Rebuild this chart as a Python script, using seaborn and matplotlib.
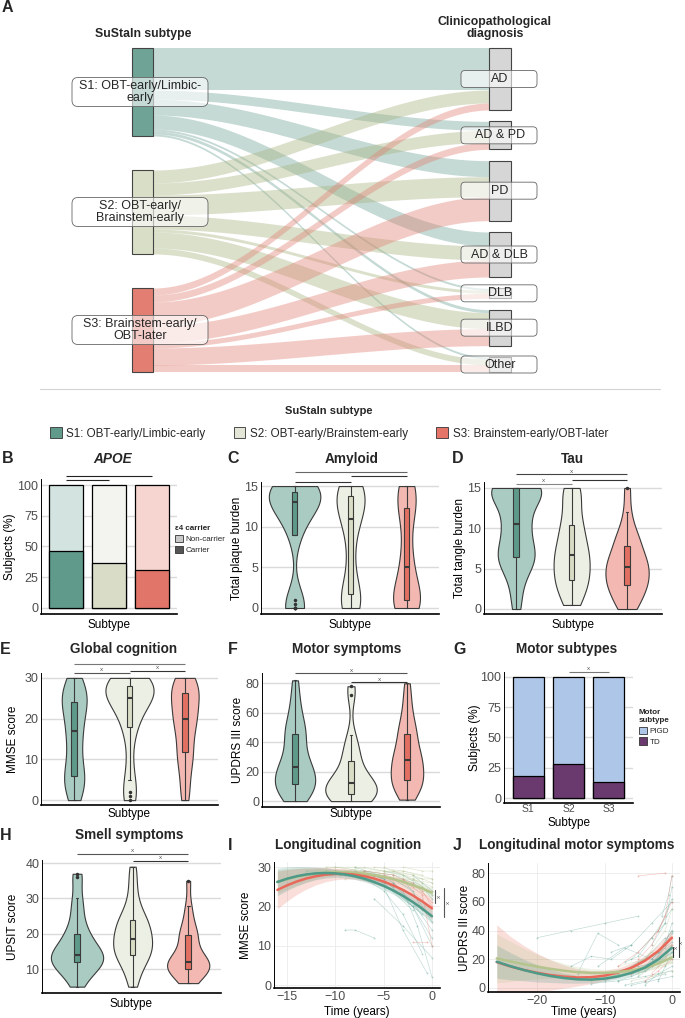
import numpy as np
import pandas as pd
import seaborn as sns
import matplotlib.pyplot as plt
from matplotlib.patches import Patch, FancyBboxPatch, Rectangle
from matplotlib.lines import Line2D

# ---------------- data ----------------
subtypes = ["S1", "S2", "S3"]
subtype_names = ["S1: OBT-early/Limbic-early", "S2: OBT-early/Brainstem-early",
                 "S3: Brainstem-early/OBT-later"]
sankey_labels = ["S1: OBT-early/Limbic-\nearly", "S2: OBT-early/\nBrainstem-early",
                 "S3: Brainstem-early/\nOBT-later"]
diagnoses = ["AD", "AD & PD", "PD", "AD & DLB", "DLB", "ILBD", "Other"]

# subjects going from each subtype to each diagnosis
flow_s1 = [42, 9, 16, 14, 2, 3, 2]
flow_s2 = [13, 12, 20, 14, 3, 16, 6]
flow_s3 = [7, 7, 24, 17, 5, 17, 7]

# APOE e4 carriers (%)
apoe_carrier = [46, 36.5, 31]
# TD motor subtype (%)
motor_td = [18, 28, 13.5]

# per-subject values (violins)
amyloid = [
    [0, 0, 0, 0, 0, 0.5, 1, 9, 9, 10, 11, 12, 12, 12.5, 13, 13, 13, 13, 13.5, 14, 14, 14, 14, 14.5, 14.5, 15, 15, 15, 15, 15, 15],
    [0, 0, 0.5, 1, 1, 1.5, 2, 4, 6, 8, 10, 11, 11, 12, 12.5, 13, 13.5, 14, 14, 14.5, 15, 15, 15],
    [0, 0, 0, 0.5, 0.5, 1, 1, 1.5, 2, 3, 4, 5, 6, 7, 9, 11, 12, 12.5, 13, 14, 15, 15, 15],
]
tau = [
    [0, 2, 4, 5, 6, 6, 6.5, 7, 7, 8, 9, 10, 10.5, 11, 12, 13, 14, 14.5, 15, 15, 15, 15, 15, 15, 15],
    [0.5, 1, 2, 3, 3.5, 3.5, 4, 5, 5.5, 6, 6.5, 7, 7.5, 8, 9, 10, 10.5, 11, 13, 14, 15, 15],
    [0, 0.5, 1, 2, 2.5, 3, 3, 3.5, 4, 4.5, 5, 5.5, 5.5, 6, 6.5, 7, 8, 8.5, 9, 10, 12, 15],
]
mmse = [
    [0, 1, 3, 4, 5, 6, 6, 8, 10, 12, 14, 16, 17, 18, 20, 22, 23, 24, 24, 25, 26, 27, 28, 29, 30],
    [0, 1, 2, 5, 9, 15, 18, 19, 21, 23, 24, 25, 25, 25, 26, 27, 27, 28, 28, 28, 29, 29, 30, 30, 30],
    [0, 2, 5, 8, 10, 11, 12, 14, 16, 18, 19, 20, 20, 21, 23, 24, 25, 26, 27, 27, 28, 29, 30, 30],
]
updrs = [
    [0, 2, 5, 7, 9, 10, 12, 14, 16, 18, 20, 22, 24, 27, 30, 35, 40, 45, 47, 50, 55, 62, 70, 82],
    [0, 0, 1, 2, 3, 5, 5, 6, 8, 10, 11, 12, 12, 14, 16, 20, 25, 30, 33, 38, 45, 72, 78],
    [1, 5, 8, 10, 12, 13, 15, 17, 20, 22, 25, 28, 28, 30, 33, 36, 40, 45, 47, 50, 55, 62, 70, 80],
]
upsit = [
    [5, 7, 9, 10, 11, 11, 12, 12, 13, 13, 14, 14, 14, 15, 16, 17, 18, 20, 20, 22, 25, 28, 30, 36, 37],
    [5, 8, 10, 12, 13, 14, 14, 15, 16, 17, 18, 18, 19, 20, 21, 22, 23, 24, 24, 26, 28, 31, 35, 39],
    [6, 7, 8, 9, 10, 10, 10, 11, 11, 12, 12, 12, 13, 14, 15, 17, 19, 20, 20, 22, 25, 28, 35],
]

# longitudinal trajectories: (subtype, times, scores)
traj_mmse = [
    ("S1", [-9.5, -7, -4, -1], [28, 27, 24, 18]),
    ("S1", [-8, -5, -2, 0], [29, 27, 20, 12]),
    ("S1", [-6, -4, -2, 0], [28, 26, 21, 14]),
    ("S1", [-7, -5, -3, -1], [27, 24, 18, 8]),
    ("S1", [-5, -3, -1, 0], [29, 28, 25, 22]),
    ("S1", [-4, -2, 0], [26, 20, 10]),
    ("S1", [-10, -8, -6, -4], [29, 29, 27, 25]),
    ("S1", [-12, -9, -6], [28, 28, 26]),
    ("S1", [-3, -1.5, 0], [27, 22, 16]),
    ("S1", [-8, -5.5, -3, -0.5], [30, 28, 14, 3]),
    ("S1", [-6, -3, 0], [22, 15, 7]),
    ("S1", [-2, -1, 0], [28, 26, 24]),
    ("S1", [-9, -8, -6], [14, 14, 12]),
    ("S1", [-5, -3, -1.5, 0], [28, 24, 15, 2]),
    ("S1", [-11, -8, -5, -2], [29, 28, 26, 19]),
    ("S1", [-13, -10, -7, -4], [29, 29, 28, 27]),
    ("S1", [-7, -4, -2, 0], [29, 28, 26, 23]),
    ("S1", [-4, -2, -1], [27, 24, 19]),
    ("S1", [-9, -7, -5], [28, 29, 27]),
    ("S2", [-12, -9, -6, -3, 0], [29, 29, 28, 27, 26]),
    ("S2", [-10, -7, -4, -1], [30, 29, 28, 26]),
    ("S2", [-8, -5, -2, 0], [29, 29, 27, 25]),
    ("S2", [-6, -3, 0], [30, 29, 27]),
    ("S2", [-14, -11, -8, -5], [28, 29, 28, 28]),
    ("S2", [-4, -2, 0], [29, 28, 26]),
    ("S2", [-7, -4, -1], [28, 27, 22]),
    ("S2", [-3, -1, 0], [30, 29, 29]),
    ("S2", [-9, -6, -3, 0], [27, 28, 26, 23]),
    ("S2", [-11, -8, -5, -2], [30, 30, 29, 28]),
    ("S2", [-9, -7, -5, -3, -1], [29, 30, 29, 29, 28]),
    ("S2", [-6, -4, -2, 0], [28, 29, 27, 27]),
    ("S2", [-13, -10, -7], [29, 30, 29]),
    ("S2", [-5, -3, -1], [30, 28, 27]),
    ("S2", [-2, -1, 0], [27, 25, 24]),
    ("S3", [-7, -4, -1, 0], [29, 28, 24, 20]),
    ("S3", [-5, -2, 0], [28, 26, 21]),
    ("S3", [-3, -1, 0], [27, 23, 10]),
    ("S3", [-2, -0.5], [11, 11]),
    ("S3", [-10, -7, -4], [29, 28, 27]),
    ("S3", [-6, -4, -2], [28, 27, 25]),
]
traj_updrs = [
    ("S1", [-15, -12, -9, -6], [15, 22, 20, 30]),
    ("S1", [-10, -7, -4, -1], [5, 12, 20, 35]),
    ("S1", [-8, -5, -2, 0], [10, 18, 25, 40]),
    ("S1", [-6, -3, 0], [20, 35, 55]),
    ("S1", [-5, -3, -1, 0], [8, 15, 30, 45]),
    ("S1", [-4, -2, 0], [15, 25, 40]),
    ("S1", [-3, -1, 0], [30, 45, 70]),
    ("S1", [-7, -4, -1], [2, 5, 10]),
    ("S1", [-12, -8, -4, 0], [3, 5, 8, 12]),
    ("S1", [-20, -15, -10, -5], [35, 40, 45, 50]),
    ("S1", [-9, -6, -3, 0], [25, 30, 45, 60]),
    ("S1", [-2, -1, 0], [5, 15, 25]),
    ("S1", [-6, -4, -2, 0], [2, 4, 6, 8]),
    ("S1", [-14, -11, -8], [10, 38, 30]),
    ("S1", [-1.5, -0.5, 0], [50, 65, 78]),
    ("S1", [-11, -7, -3, 0], [15, 28, 20, 32]),
    ("S1", [-8, -6, -4, -2, 0], [5, 8, 12, 18, 25]),
    ("S1", [-5, -3, -1], [12, 18, 28]),
    ("S1", [-10, -5, 0], [10, 15, 20]),
    ("S1", [-4, -2, 0], [2, 10, 15]),
    ("S1", [-3, -2, -1, 0], [20, 25, 30, 38]),
    ("S1", [-7, -5, -3, -1], [18, 22, 35, 45]),
    ("S1", [-2, 0], [40, 62]),
    ("S2", [-10, -6, -2, 0], [8, 12, 18, 22]),
    ("S2", [-8, -4, 0], [15, 20, 30]),
    ("S2", [-5, -2, 0], [10, 15, 18]),
    ("S2", [-12, -7, -3], [5, 10, 25]),
    ("S2", [-4, -1, 0], [20, 40, 55]),
    ("S2", [-6, -3, 0], [5, 8, 12]),
    ("S2", [-3, -1, 0], [15, 22, 28]),
    ("S3", [-8, -5, -2, 0], [15, 25, 40, 60]),
    ("S3", [-5, -3, -1, 0], [20, 30, 50, 78]),
    ("S3", [-3, -1, 0], [10, 20, 30]),
    ("S3", [-6, -3, 0], [10, 15, 35]),
    ("S3", [-5, -1], [78, 80]),
    ("S3", [-4, -2, 0], [5, 12, 20]),
]

# model fits and confidence half-widths
fit_time_mmse = list(range(-16, 1))
fit_mmse_s1 = [26.2, 27.05, 27.68, 28.14, 28.41, 28.5, 28.41, 28.14, 27.68, 27.05, 26.23, 25.23, 24.05, 22.68, 21.14, 19.41, 17.5]
fit_mmse_s2 = [26.3, 26.96, 27.53, 27.99, 28.34, 28.57, 28.69, 28.69, 28.57, 28.34, 27.99, 27.53, 26.96, 26.27, 25.46, 24.55, 23.5]
fit_mmse_s3 = [24.2, 25.35, 26.33, 27.11, 27.69, 28.08, 28.28, 28.28, 28.08, 27.69, 27.11, 26.33, 25.35, 24.18, 22.82, 21.26, 19.5]
ci_mmse_s1 = [3.5, 3.0, 2.5, 2.0, 1.6, 1.3, 1.0, 0.9, 0.8, 0.8, 0.8, 0.9, 1.0, 1.1, 1.3, 1.5, 1.8]
ci_mmse_s2 = [3.0, 2.6, 2.2, 1.8, 1.4, 1.1, 0.9, 0.8, 0.7, 0.7, 0.7, 0.8, 0.8, 0.9, 1.0, 1.2, 1.4]
ci_mmse_s3 = [4.8, 4.0, 3.3, 2.7, 2.2, 1.8, 1.5, 1.3, 1.2, 1.2, 1.3, 1.4, 1.5, 1.7, 2.0, 2.3, 2.7]

fit_time_updrs = list(range(-26, 1, 2))
fit_updrs_s1 = [18.3, 15.2, 12.5, 10.2, 8.3, 6.9, 6.0, 5.8, 6.5, 8.0, 10.5, 14.2, 20.0, 28.0]
fit_updrs_s2 = [20.6, 18.5, 16.6, 14.9, 13.3, 12.0, 11.0, 10.5, 10.5, 11.0, 12.2, 14.0, 17.0, 21.3]
fit_updrs_s3 = [18.0, 15.0, 12.6, 10.6, 9.0, 7.9, 7.3, 7.5, 8.6, 10.7, 14.1, 19.0, 25.8, 35.0]
ci_updrs_s1 = [11.5, 9.5, 7.5, 6, 4.5, 3.5, 2.7, 2.2, 1.9, 1.8, 1.9, 2.2, 2.7, 3.5]
ci_updrs_s2 = [17, 14, 11, 8.5, 6.5, 5, 3.8, 3, 2.5, 2.3, 2.3, 2.6, 3.2, 4.0]
ci_updrs_s3 = [26, 21, 17, 13.5, 10.5, 8, 6, 4.5, 3.5, 3.2, 3.2, 3.5, 4.2, 5.5]

# ---------------- style ----------------
sns.set_theme(style="white")
plt.rcParams["font.family"] = ["Liberation Sans", "DejaVu Sans"]

node_col = ["#6FA396", "#D9DEC6", "#E27F72"]
flow_col = ["#6FA396", "#A7B27E", "#E27F72"]
legend_col = ["#5F9A8A", "#E3E6D6", "#E57469"]
violin_pal = dict(zip(subtypes, ["#A9CBC2", "#ECEFE3", "#F2B8B1"]))
box_pal = dict(zip(subtypes, ["#5E9A8A", "#D9DDC5", "#E26F62"]))
carrier_pal = dict(zip(subtypes, ["#5F9A8A", "#D9DCC6", "#E2756A"]))
noncarrier_pal = dict(zip(subtypes, ["#D3E3DF", "#F3F4EF", "#F6D5D1"]))
line_pal = dict(zip(subtypes, ["#4E9A88", "#B5C48C", "#E8695A"]))
traj_pal = dict(zip(subtypes, ["#6FAE9F", "#B9C99A", "#E8867A"]))

W, H = 685, 1018
fig = plt.figure(figsize=(W / 100, H / 100), dpi=100)


def add_ax(l, t, r, b):
    return fig.add_axes([l / W, 1 - b / H, (r - l) / W, (b - t) / H])


def ftext(x, y, s, **kw):
    fig.text(x / W, 1 - y / H, s, **kw)


def style_ax(ax, box, xlim, ylim, yticks, ylab, ylab_x, xlab, xlab_y, xgrid=False):
    l, t, r, b = box
    ax.set_xlim(*xlim)
    ax.set_ylim(*ylim)
    ax.set_yticks(yticks)
    if xgrid:
        ax.grid(color="#EBEBEB", lw=0.6)
    else:
        ax.grid(axis="y", color="#DADADA", lw=1.0)
        ax.grid(axis="x", visible=False)
    ax.set_axisbelow(True)
    for s in ["top", "right"]:
        ax.spines[s].set_visible(False)
    ax.spines["left"].set_color("black")
    ax.spines["left"].set_linewidth(0.7)
    ax.spines["bottom"].set_color("black")
    ax.spines["bottom"].set_linewidth(1.2)
    ax.tick_params(length=0, labelsize=9, labelcolor="#4D4D4D", pad=2)
    ax.set_ylabel(ylab, fontsize=8.5, color="black")
    ax.set_xlabel(xlab, fontsize=8.5, color="black")
    ax.yaxis.label.set_va("center")
    ax.xaxis.label.set_va("center")
    ax.yaxis.set_label_coords((ylab_x - l) / (r - l), 0.5)
    ax.xaxis.set_label_coords(0.5, (b - xlab_y) / (b - t))


def bracket(ax, x0, x1, y, star=False, color="#555555"):
    ax.plot([x0, x1], [y, y], color=color, lw=0.8, clip_on=False, solid_capstyle="butt")
    if star:
        ax.text((x0 + x1) / 2, y + (ax.get_ylim()[1] - ax.get_ylim()[0]) * 0.005, "x",
                ha="center", va="bottom", fontsize=4.5, color="#555555")


def long_df(groups):
    return pd.DataFrame({"subtype": np.repeat(subtypes, [len(g) for g in groups]),
                         "value": np.concatenate(groups)})


def violin_box(ax, groups, widths):
    df = long_df(groups)
    for k, s in enumerate(subtypes):
        sns.violinplot(data=df[df.subtype == s], x="subtype", y="value", order=subtypes,
                       color=violin_pal[s], inner=None, cut=0, density_norm="width",
                       width=widths[k], bw_adjust=0.75, linewidth=0.8,
                       linecolor="#3A3A3A", saturation=1, ax=ax)
    sns.boxplot(data=df, x="subtype", y="value", hue="subtype", order=subtypes,
                hue_order=subtypes, palette=box_pal, width=0.1, linewidth=0.8,
                linecolor="#3A3A3A", saturation=1, legend=False, ax=ax,
                medianprops=dict(lw=1.5),
                flierprops=dict(marker="o", markersize=1.5, markerfacecolor="#333333",
                                markeredgecolor="#333333"))
    ax.set_xticks([0, 1, 2])
    ax.set_xticklabels([])


# ---------------- A: sankey ----------------
ax_a = add_ax(0, 0, 685, 380)
ax_a.set_xlim(0, 685)
ax_a.set_ylim(380, 0)
ax_a.axis("off")

flows = np.array([flow_s1, flow_s2, flow_s3], dtype=float)
left_tot = flows.sum(axis=1)
right_tot = flows.sum(axis=0)
top_y, lgap = 48, 34
span = left_tot.sum() + 2 * lgap
rgap = (span - right_tot.sum()) / (len(diagnoses) - 1)
left_y = top_y + np.concatenate([[0], np.cumsum(left_tot + lgap)[:-1]])
right_y = top_y + np.concatenate([[0], np.cumsum(right_tot + rgap)[:-1]])
xl, xr = 153, 489
xs = np.linspace(xl, xr, 120)
tt = (xs - xl) / (xr - xl)
ss = tt * tt * (3 - 2 * tt)
for i in range(3):
    for j in range(len(diagnoses)):
        h = flows[i, j]
        ly0 = left_y[i] + flows[i, :j].sum()
        ry0 = right_y[j] + flows[:i, j].sum()
        ytop = ly0 + (ry0 - ly0) * ss
        ax_a.fill_between(xs, ytop, ytop + h, color=flow_col[i], alpha=0.4, lw=0)

for i in range(3):
    ax_a.add_patch(Rectangle((132, left_y[i]), 21, left_tot[i], fc=node_col[i],
                             ec="#444444", lw=0.8))
    cy = left_y[i] + left_tot[i] / 2
    ax_a.add_patch(FancyBboxPatch((72, cy - 14.5), 136, 29,
                                  boxstyle="round,pad=0,rounding_size=6",
                                  fc=(1, 1, 1, 0.6), ec="#666666", lw=0.6))
    ax_a.text(140, cy, sankey_labels[i], ha="center", va="center", fontsize=9,
              linespacing=1.1)
for j in range(len(diagnoses)):
    ax_a.add_patch(Rectangle((489, right_y[j]), 22, right_tot[j], fc="#D6D6D6",
                             ec="#444444", lw=0.8))
    cy = right_y[j] + right_tot[j] / 2
    ax_a.add_patch(FancyBboxPatch((461, cy - 8.5), 76, 17,
                                  boxstyle="round,pad=0,rounding_size=4",
                                  fc=(1, 1, 1, 0.6), ec="#666666", lw=0.6))
    ax_a.text(500, cy, diagnoses[j], ha="center", va="center", fontsize=9)

ax_a.text(143, 34, "SuStaIn subtype", ha="center", va="center", fontsize=8.8,
          fontweight="bold")
ax_a.text(495, 28, "Clinicopathological\ndiagnosis", ha="center", va="center",
          fontsize=8.8, fontweight="bold", linespacing=0.95)

fig.add_artist(Line2D([40 / W, 660 / W], [1 - 389 / H] * 2, color="#D3D3D3", lw=0.8))

# subtype legend
handles = [Patch(facecolor=c, edgecolor="#333333", lw=0.6) for c in legend_col]
leg = fig.legend(handles, subtype_names, loc="center", bbox_to_anchor=(329 / W, 1 - 423 / H),
                 ncol=3, frameon=False, fontsize=8.4, title="SuStaIn subtype",
                 title_fontproperties={"weight": "bold", "size": 8},
                 handlelength=1.0, handleheight=1.0, handletextpad=0.4,
                 columnspacing=2.4, borderaxespad=0)
leg._legend_box.sep = 8

# ---------------- panel letters and titles ----------------
for x, y, s in [(2, 8, "A"), (2, 459, "B"), (227, 459, "C"), (452, 459, "D"),
                (0, 649, "E"), (228, 649, "F"), (453, 649, "G"),
                (0, 835, "H"), (228, 845, "I"), (453, 845, "J")]:
    ftext(x, y, s, ha="left", va="center", fontsize=11.5, fontweight="bold")
for x, y, s in [(352, 459, "Amyloid"), (572, 459, "Tau"),
                (124, 649, "Global cognition"), (347, 649, "Motor symptoms"),
                (567, 649, "Motor subtypes"), (129, 835, "Smell symptoms"),
                (348, 845, "Longitudinal cognition"), (577, 845, "Longitudinal motor symptoms")]:
    ftext(x, y, s, ha="center", va="center", fontsize=9.8, fontweight="bold")
ftext(113, 459, "APOE", ha="center", va="center", fontsize=9.8, fontweight="bold",
      fontstyle="italic")

# ---------------- B: APOE ----------------
box = (41, 479, 177, 614)
ax = add_ax(*box)
bar_df = pd.DataFrame({"subtype": subtypes, "carrier": apoe_carrier,
                       "total": [100] * 3})
sns.barplot(data=bar_df, x="subtype", y="total", hue="subtype", palette=noncarrier_pal,
            edgecolor="black", linewidth=0.9, width=0.8, saturation=1, legend=False, ax=ax)
sns.barplot(data=bar_df, x="subtype", y="carrier", hue="subtype", palette=carrier_pal,
            edgecolor="black", linewidth=0.9, width=0.8, saturation=1, legend=False, ax=ax)
ax.set_xticks([0, 1, 2])
ax.set_xticklabels([])
style_ax(ax, box, (-0.58, 2.58), (-4.9, 104.9), [0, 25, 50, 75, 100],
         "Subjects (%)", 10, "Subtype", 625)
bracket(ax, 0, 1, 104, color="#222222")
bracket(ax, 0, 2, 107.3, color="#222222")
lh = [Patch(facecolor="#C8C8C8", edgecolor="#333333", lw=0.6),
      Patch(facecolor="#555555", edgecolor="#333333", lw=0.6)]
lg = ax.legend(lh, ["Non-carrier", "Carrier"], title="ε4 carrier", loc="upper left",
               bbox_to_anchor=(0.96, 0.68), frameon=False, fontsize=5.8,
               title_fontproperties={"weight": "bold", "size": 5.8},
               handlelength=1.0, handleheight=1.0, handletextpad=0.3, labelspacing=0.3,
               borderaxespad=0)
lg._legend_box.align = "left"

# ---------------- C: amyloid ----------------
box = (261, 482, 439, 614)
ax = add_ax(*box)
violin_box(ax, amyloid, [0.92, 0.5, 0.48])
style_ax(ax, box, (-0.6, 2.58), (-0.74, 15.5), [0, 5, 10, 15],
         "Total plaque burden", 237, "Subtype", 625)
bracket(ax, 0, 2, 16.7, color="#666666")
bracket(ax, 1, 2, 16.2, color="#333333")
bracket(ax, 0, 1, 15.5, color="#333333")

# ---------------- D: tau ----------------
box = (484, 482, 662, 614)
ax = add_ax(*box)
violin_box(ax, tau, [0.9, 0.65, 0.78])
style_ax(ax, box, (-0.58, 2.63), (-0.62, 15.74), [0, 5, 10, 15],
         "Total tangle burden", 460, "Subtype", 625)
bracket(ax, 0, 2, 16.7, star=True, color="#444444")
bracket(ax, 1, 2, 16.0, color="#333333")
bracket(ax, 0, 1, 15.5, star=True, color="#888888")

# ---------------- E: MMSE ----------------
box = (41, 673, 218, 805)
ax = add_ax(*box)
violin_box(ax, mmse, [0.45, 0.87, 0.5])
style_ax(ax, box, (-0.6, 2.6), (-1.2, 31.2), [0, 10, 20, 30],
         "MMSE score", 13, "Subtype", 814)
bracket(ax, 0, 2, 33.4, color="#777777")
bracket(ax, 1, 2, 31.8, star=True, color="#333333")
bracket(ax, 0, 1, 31.2, star=True, color="#555555")

# ---------------- F: UPDRS ----------------
box = (262, 673, 440, 807)
ax = add_ax(*box)
violin_box(ax, updrs, [0.72, 0.92, 0.58])
style_ax(ax, box, (-0.59, 2.59), (-4, 87), [0, 20, 40, 60, 80],
         "UPDRS III score", 238, "Subtype", 814)
bracket(ax, 0, 2, 86.8, star=True, color="#555555")
bracket(ax, 1, 2, 80.7, star=True, color="#333333")

# ---------------- G: motor subtypes ----------------
box = (504, 672, 633, 803)
ax = add_ax(*box)
sns.barplot(x=subtypes, y=[100] * 3, color="#AEC7E8", edgecolor="black", linewidth=0.9,
            width=0.78, saturation=1, ax=ax)
sns.barplot(x=subtypes, y=motor_td, color="#6A3A6E", edgecolor="black", linewidth=0.9,
            width=0.78, saturation=1, ax=ax)
style_ax(ax, box, (-0.61, 2.61), (-4.1, 104), [0, 25, 50, 75, 100],
         "Subjects (%)", 475, "Subtype", 823)
ax.tick_params(axis="x", labelsize=7.5, pad=1)
bracket(ax, 1, 2, 104.1, star=True, color="#777777")
lh = [Patch(facecolor="#AEC7E8", edgecolor="#333333", lw=0.6),
      Patch(facecolor="#6A3A6E", edgecolor="#333333", lw=0.6)]
lg = ax.legend(lh, ["PIGD", "TD"], title="Motor\nsubtype", loc="upper left",
               bbox_to_anchor=(1.02, 0.74), frameon=False, fontsize=5.8,
               title_fontproperties={"weight": "bold", "size": 5.8},
               handlelength=1.0, handleheight=1.0, handletextpad=0.3, labelspacing=0.3,
               borderaxespad=0)
lg._legend_box.align = "left"

# ---------------- H: UPSIT ----------------
box = (42, 860, 221, 993)
ax = add_ax(*box)
violin_box(ax, upsit, [0.94, 0.7, 0.76])
style_ax(ax, box, (-0.63, 2.59), (3.2, 40.9), [10, 20, 30, 40],
         "UPSIT score", 13, "Subtype", 1004)
bracket(ax, 0, 2, 42.6, star=True, color="#555555")
bracket(ax, 1, 2, 40.6, star=True, color="#333333")


# ---------------- I / J: longitudinal ----------------
def traj_df(trajs):
    rows = []
    for k, (s, ts, ys) in enumerate(trajs):
        for t, y in zip(ts, ys):
            rows.append((k, s, t, y))
    return pd.DataFrame(rows, columns=["id", "subtype", "time", "score"])


def longitudinal(ax, trajs, times, fits, cis, draw_order):
    sns.lineplot(data=traj_df(trajs), x="time", y="score", hue="subtype", units="id",
                 estimator=None, palette=traj_pal, lw=0.4, alpha=0.5, marker="o",
                 markersize=1.3, markeredgewidth=0, legend=False, ax=ax)
    for s in draw_order:
        k = subtypes.index(s)
        lo = np.array(fits[k]) - np.array(cis[k])
        hi = np.array(fits[k]) + np.array(cis[k])
        ax.fill_between(times, lo, hi, color=line_pal[s], alpha=0.22, lw=0)
    fit_df = pd.DataFrame({"time": np.tile(times, 3),
                           "score": np.concatenate(fits),
                           "subtype": np.repeat(subtypes, len(times))})
    for s in draw_order:
        sns.lineplot(data=fit_df[fit_df.subtype == s], x="time", y="score",
                     color=line_pal[s], lw=1.8, legend=False, ax=ax)


box = (274, 862, 440, 988)
ax = add_ax(*box)
longitudinal(ax, traj_mmse, fit_time_mmse, [fit_mmse_s1, fit_mmse_s2, fit_mmse_s3],
             [ci_mmse_s1, ci_mmse_s2, ci_mmse_s3], ["S2", "S3", "S1"])
style_ax(ax, box, (-16.35, 0.83), (-0.76, 31.3), [0, 10, 20, 30],
         "MMSE score", 246, "Time (years)", 1012, xgrid=True)
ax.set_xticks([-15, -10, -5, 0])
for x0, y0, y1 in [(0.3, 20.9, 24.2), (1.2, 17.3, 24.7)]:
    ax.plot([x0, x0], [y0, y1], color="#555555", lw=0.8, clip_on=False)
    ax.text(x0 + 0.45, (y0 + y1) / 2, "x", rotation=90, ha="center", va="center",
            fontsize=4.5, color="#555555", clip_on=False)

box = (488, 863, 680, 992)
ax = add_ax(*box)
longitudinal(ax, traj_updrs, fit_time_updrs, [fit_updrs_s1, fit_updrs_s2, fit_updrs_s3],
             [ci_updrs_s1, ci_updrs_s2, ci_updrs_s3], ["S3", "S2", "S1"])
style_ax(ax, box, (-27.3, 1.2), (-2.8, 87), [0, 20, 40, 60, 80],
         "UPDRS III score", 465, "Time (years)", 1012, xgrid=True)
ax.set_xticks([-20, -10, 0])
for x0, y0, y1 in [(0.2, 21.5, 28.5), (1.0, 21.5, 35.5)]:
    ax.plot([x0, x0], [y0, y1], color="#333333", lw=0.8, clip_on=False)
    ax.text(x0 + 0.4, (y0 + y1) / 2 + 3, "x", rotation=90, ha="center", va="center",
            fontsize=4.5, color="#555555", clip_on=False)

fig.savefig("out.png", dpi=100)
